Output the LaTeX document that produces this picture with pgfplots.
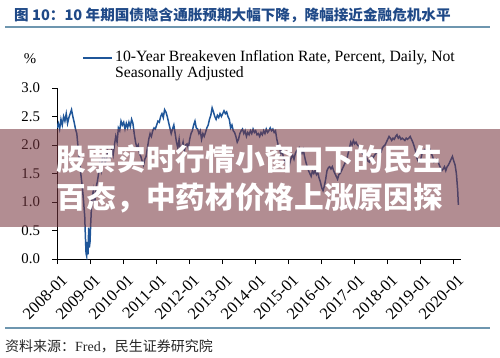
\documentclass[border=0pt]{standalone}
\usepackage{fontspec}
\setmainfont{Liberation Serif}
\newfontfamily\cjk{Noto Sans CJK SC}
\usepackage{pgfplots}
\pgfplotsset{compat=1.18}
\definecolor{lineblue}{RGB}{31,86,153}
\definecolor{titleblue}{RGB}{31,73,135}
\definecolor{rulecol}{RGB}{110,150,175}
\definecolor{bannerc}{RGB}{118,52,61}
\begin{document}
\begin{tikzpicture}
\path[use as bounding box] (0pt,0pt) rectangle (500pt,357pt);
% title
\node[anchor=west,inner sep=0pt,text=titleblue,font=\cjk\bfseries\fontsize{14.6}{16}\selectfont] at (14pt,342pt) {图 10：10 年期国债隐含通胀预期大幅下降，降幅接近金融危机水平};
\draw[rulecol,line width=1.3pt] (5pt,330pt) -- (490pt,330pt);
\draw[rulecol,line width=1.3pt] (5pt,29pt) -- (490pt,29pt);
\node[anchor=west,inner sep=0pt,text=black!85,font=\cjk\fontsize{14}{16}\selectfont] at (5pt,11pt) {资料来源：{\rmfamily Fred}，民生证券研究院};
% legend
\draw[lineblue,line width=1.5pt] (83pt,299pt) -- (112pt,299pt);
\node[anchor=west,inner sep=0pt,align=left,font=\fontsize{15.7}{16.5}\selectfont] at (115pt,291.5pt) {10-Year Breakeven Inflation Rate, Percent, Daily, Not\\Seasonally Adjusted};
\begin{axis}[
  at={(57pt,98pt)}, anchor=south west,
  scale only axis, width=404pt, height=171pt,
  xmin=2008, xmax=2020.24, ymin=0, ymax=3,
  axis x line*=bottom, axis y line*=left,
  axis line style={black,line width=0.9pt,-},
  tick style={black,line width=0.9pt},
  tick align=outside, major tick length=5pt,
  xtick={2008,2009,2010,2011,2012,2013,2014,2015,2016,2017,2018,2019,2020},
  xticklabels={2008-01,2009-01,2010-01,2011-01,2012-01,2013-01,2014-01,2015-01,2016-01,2017-01,2018-01,2019-01,2020-01},
  ytick={0,0.5,1,1.5,2,2.5,3},
  /pgf/number format/assume math mode=true,
  ticklabel style={font=\fontsize{14.8}{15}\selectfont},
  yticklabel style={xshift=-8.5pt,/pgf/number format/fixed,/pgf/number format/fixed zerofill,/pgf/number format/precision=1},
  xticklabel style={rotate=45,anchor=north east,inner sep=1pt,xshift=-3pt,yshift=-8pt,font=\fontsize{16.5}{17}\selectfont},
  ylabel={\%},
  ylabel style={rotate=-90,at={(axis description cs:-0.067,1.17)},anchor=center,font=\fontsize{14.8}{15}\selectfont},
]
\addplot[lineblue,line width=1.5pt] coordinates {
(2008.00,2.30)(2008.04,2.38)(2008.08,2.28)(2008.12,2.45)(2008.16,2.35)(2008.20,2.50)(2008.24,2.42)(2008.28,2.55)
(2008.32,2.38)(2008.36,2.48)(2008.40,2.55)(2008.44,2.62)(2008.48,2.50)(2008.52,2.40)(2008.56,2.28)(2008.60,2.20)
(2008.64,1.95)(2008.68,1.75)(2008.72,1.50)(2008.76,1.30)(2008.80,1.05)(2008.84,0.75)(2008.86,0.40)(2008.88,0.10)
(2008.90,0.05)(2008.92,0.30)(2008.94,0.08)(2008.96,0.55)(2008.98,0.20)(2009.00,0.30)(2009.02,0.60)(2009.04,0.85)
(2009.06,1.05)(2009.10,1.20)(2009.14,0.95)(2009.18,1.25)(2009.22,1.35)(2009.26,1.50)(2009.30,1.65)(2009.34,1.55)
(2009.38,1.80)(2009.42,1.85)(2009.46,1.70)(2009.50,1.75)(2009.54,1.90)(2009.58,1.85)(2009.62,1.78)(2009.66,1.92)
(2009.70,1.82)(2009.74,2.00)(2009.78,2.15)(2009.82,2.05)(2009.86,2.30)(2009.90,2.25)(2009.94,2.42)(2009.98,2.35)
(2010.02,2.40)(2010.06,2.28)(2010.10,2.38)(2010.14,2.30)(2010.18,2.40)(2010.22,2.32)(2010.26,2.45)(2010.30,2.38)
(2010.34,2.20)(2010.38,2.05)(2010.42,1.95)(2010.46,2.00)(2010.50,1.85)(2010.54,1.80)(2010.58,1.72)(2010.62,1.65)
(2010.66,1.75)(2010.70,1.80)(2010.74,1.95)(2010.78,2.10)(2010.82,2.20)(2010.86,2.15)(2010.90,2.25)(2010.94,2.30)
(2010.98,2.28)(2011.02,2.35)(2011.06,2.42)(2011.10,2.40)(2011.14,2.50)(2011.18,2.55)(2011.22,2.48)(2011.26,2.62)
(2011.30,2.58)(2011.34,2.50)(2011.38,2.40)(2011.42,2.30)(2011.46,2.20)(2011.50,2.28)(2011.54,2.35)(2011.58,2.20)
(2011.62,2.05)(2011.66,1.95)(2011.70,2.10)(2011.74,1.90)(2011.78,1.95)(2011.82,2.05)(2011.86,1.90)(2011.90,2.00)
(2011.94,2.02)(2011.98,1.95)(2012.02,2.10)(2012.06,2.20)(2012.10,2.25)(2012.14,2.35)(2012.18,2.42)(2012.22,2.30)
(2012.26,2.28)(2012.30,2.20)(2012.34,2.25)(2012.38,2.10)(2012.42,2.20)(2012.46,2.15)(2012.50,2.22)(2012.54,2.30)
(2012.58,2.35)(2012.62,2.45)(2012.66,2.52)(2012.70,2.65)(2012.74,2.58)(2012.78,2.50)(2012.82,2.45)(2012.86,2.52)
(2012.90,2.48)(2012.94,2.55)(2012.98,2.50)(2013.02,2.55)(2013.06,2.60)(2013.10,2.55)(2013.14,2.58)(2013.18,2.50)
(2013.22,2.45)(2013.26,2.30)(2013.30,2.35)(2013.34,2.25)(2013.38,2.22)(2013.42,2.15)(2013.46,2.05)(2013.50,2.10)
(2013.54,2.20)(2013.58,2.25)(2013.62,2.28)(2013.66,2.20)(2013.70,2.25)(2013.74,2.15)(2013.78,2.22)(2013.82,2.18)
(2013.86,2.25)(2013.90,2.20)(2013.94,2.28)(2013.98,2.22)(2014.02,2.25)(2014.06,2.18)(2014.10,2.20)(2014.14,2.15)
(2014.18,2.22)(2014.22,2.18)(2014.26,2.25)(2014.30,2.20)(2014.34,2.28)(2014.38,2.22)(2014.42,2.25)(2014.46,2.30)
(2014.50,2.25)(2014.54,2.28)(2014.58,2.22)(2014.62,2.25)(2014.66,2.10)(2014.70,2.00)(2014.74,1.95)(2014.78,1.85)
(2014.82,1.90)(2014.86,1.78)(2014.90,1.72)(2014.94,1.65)(2014.98,1.70)(2015.02,1.60)(2015.06,1.70)(2015.10,1.78)
(2015.14,1.82)(2015.18,1.75)(2015.22,1.85)(2015.26,1.90)(2015.30,1.88)(2015.34,1.95)(2015.38,1.90)(2015.42,1.85)
(2015.46,1.92)(2015.50,1.80)(2015.54,1.70)(2015.58,1.62)(2015.62,1.55)(2015.66,1.50)(2015.70,1.45)(2015.74,1.55)
(2015.78,1.50)(2015.82,1.55)(2015.86,1.48)(2015.90,1.52)(2015.94,1.42)(2015.98,1.35)(2016.02,1.25)(2016.06,1.20)
(2016.10,1.28)(2016.14,1.40)(2016.18,1.55)(2016.22,1.60)(2016.26,1.62)(2016.30,1.58)(2016.34,1.62)(2016.38,1.55)
(2016.42,1.50)(2016.46,1.45)(2016.50,1.40)(2016.54,1.48)(2016.58,1.50)(2016.62,1.55)(2016.66,1.60)(2016.70,1.65)
(2016.74,1.70)(2016.78,1.75)(2016.82,1.85)(2016.86,1.95)(2016.90,2.05)(2016.94,2.00)(2016.98,2.08)(2017.02,2.02)
(2017.06,2.05)(2017.10,2.00)(2017.14,1.98)(2017.18,1.92)(2017.22,1.88)(2017.26,1.85)(2017.30,1.82)(2017.34,1.85)
(2017.38,1.78)(2017.42,1.72)(2017.46,1.70)(2017.50,1.75)(2017.54,1.80)(2017.58,1.78)(2017.62,1.82)(2017.66,1.85)
(2017.70,1.88)(2017.74,1.85)(2017.78,1.90)(2017.82,1.88)(2017.86,1.95)(2017.90,1.98)(2017.94,2.00)(2017.98,2.05)
(2018.02,2.10)(2018.06,2.15)(2018.10,2.12)(2018.14,2.08)(2018.18,2.12)(2018.22,2.10)(2018.26,2.15)(2018.30,2.18)
(2018.34,2.12)(2018.38,2.15)(2018.42,2.10)(2018.46,2.12)(2018.50,2.10)(2018.54,2.08)(2018.58,2.12)(2018.62,2.10)
(2018.66,2.12)(2018.70,2.15)(2018.74,2.10)(2018.78,2.05)(2018.82,1.98)(2018.86,1.90)(2018.90,1.78)(2018.94,1.72)
(2018.98,1.70)(2019.02,1.75)(2019.06,1.85)(2019.10,1.90)(2019.14,1.92)(2019.18,1.88)(2019.22,1.90)(2019.26,1.88)
(2019.30,1.92)(2019.34,1.85)(2019.38,1.80)(2019.42,1.70)(2019.46,1.72)(2019.50,1.75)(2019.54,1.72)(2019.58,1.65)
(2019.62,1.60)(2019.66,1.55)(2019.70,1.58)(2019.74,1.62)(2019.78,1.55)(2019.82,1.62)(2019.86,1.65)(2019.90,1.70)
(2019.94,1.75)(2019.98,1.80)(2020.02,1.72)(2020.06,1.65)(2020.10,1.50)(2020.14,1.20)(2020.16,0.95)
};
\end{axis}
% overlay banner
\fill[bannerc,fill opacity=0.56] (0pt,130pt) rectangle (500pt,228pt);
\node[text=white,inner sep=0pt,font=\cjk\bfseries\fontsize{29.7}{30}\selectfont] at (250pt,198pt) {股票实时行情小窗口下的民生};
\node[text=white,inner sep=0pt,font=\cjk\bfseries\fontsize{29.7}{30}\selectfont] at (250pt,159pt) {百态，中药材价格上涨原因探};
\end{tikzpicture}
\end{document}
